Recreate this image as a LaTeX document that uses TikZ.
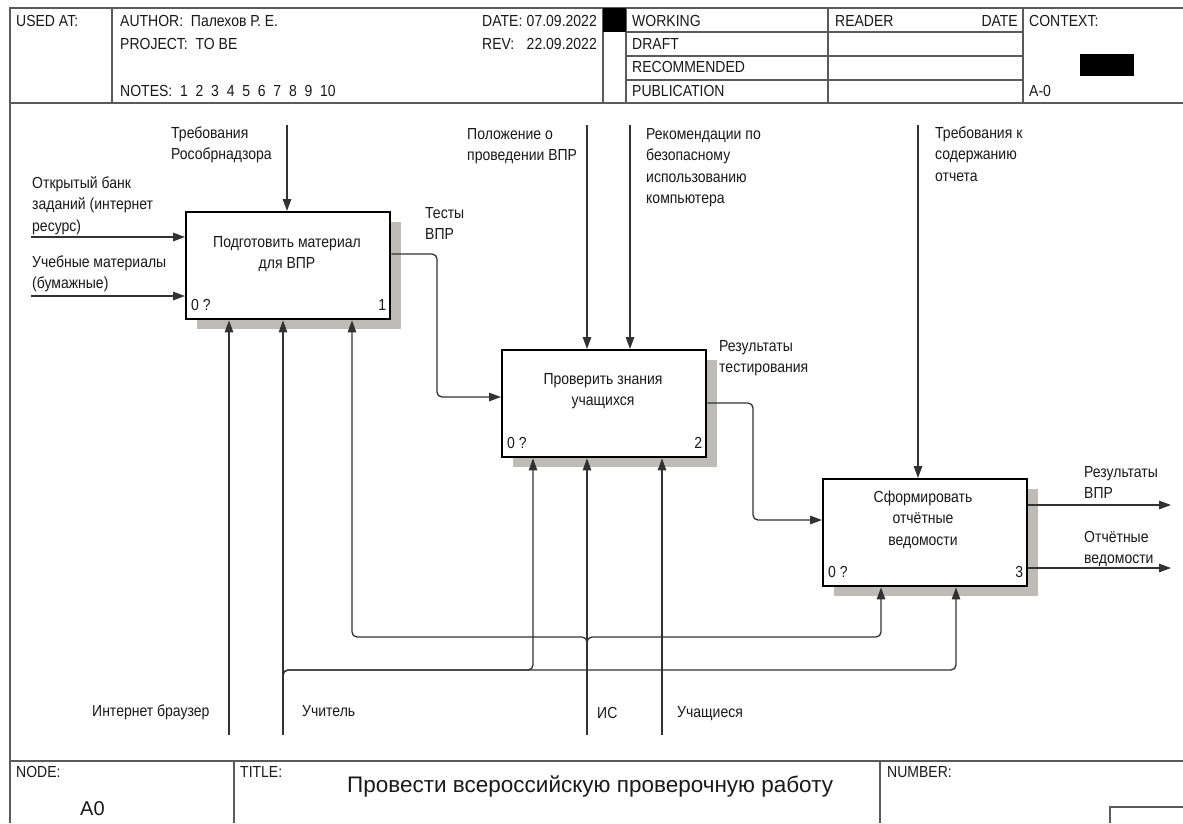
\documentclass[tikz,border=0pt]{standalone}
\usepackage{fontspec}
\setmainfont{Liberation Sans}
\newfontfamily\narrowsans[FakeStretch=0.875]{Liberation Sans}
\usetikzlibrary{arrows.meta,shadows}
\definecolor{framegray}{RGB}{90,90,90}
\definecolor{linegray}{RGB}{50,50,50}
\definecolor{shadowgray}{RGB}{190,188,182}
\definecolor{inkcol}{RGB}{25,25,25}
\newcommand\lblfont{\narrowsans\fontsize{16}{21.5}\selectfont}
\newcommand\ttlfont{\fontsize{22.5}{26}\selectfont}
\begin{document}
\begin{tikzpicture}[x=1pt,y=-1pt,
  frame/.style={draw=framegray,line width=1.4pt},
  arr/.style={draw=linegray,line width=1.3pt,rounded corners=5pt,-{Triangle[length=12pt,width=8.5pt]}},
  fn/.style={draw=black,line width=2.4pt,fill=white,minimum width=204pt,minimum height=107pt,
    inner sep=0pt,anchor=north west,
    drop shadow={shadow xshift=11pt,shadow yshift=-10pt,fill=shadowgray,opacity=1}},
  lab/.style={inner sep=0pt,anchor=base west,align=left,font=\lblfont,text=inkcol},
  labr/.style={inner sep=0pt,anchor=base east,font=\lblfont,text=inkcol},
  ttl/.style={inner sep=0pt,anchor=base,align=center,font=\lblfont,text=inkcol},
]
\useasboundingbox (0,0) rectangle (1183,823);
\fill[white] (0,0) rectangle (1183,823);

% ---------- form frame: header ----------
\draw[frame] (10,823) -- (10,8) -- (1183,8);
\draw[frame] (10,103) -- (1183,103);
\foreach \x in {112,603,626,828,1023} \draw[frame] (\x,8) -- (\x,103);
\foreach \y in {32,56,80} \draw[frame] (626,\y) -- (1023,\y);
\fill[black] (603,8) rectangle (626,32);
\fill[black] (1080,54) rectangle (1134,76);

\node[lab] (usedat) at (16,26) {USED AT:};
\node[lab] (author) at (120,26) {AUTHOR:\ \ Палехов Р. Е.};
\node[lab] (project) at (120,49) {PROJECT:\ \ TO BE};
\node[lab] (notes) at (120,96) {NOTES:\ \ 1\ \ 2\ \ 3\ \ 4\ \ 5\ \ 6\ \ 7\ \ 8\ \ 9\ \ 10};
\node[lab] (date) at (482,26) {DATE:};
\node[labr] (dateval) at (597,26) {07.09.2022};
\node[lab] (rev) at (482,49) {REV:};
\node[labr] (revval) at (597,49) {22.09.2022};
\node[lab] (working) at (632,26) {WORKING};
\node[lab] (draft) at (632,49) {DRAFT};
\node[lab] (recommended) at (632,72) {RECOMMENDED};
\node[lab] (publication) at (632,96) {PUBLICATION};
\node[lab] (reader) at (835,26) {READER};
\node[labr] (readerdate) at (1018,26) {DATE};
\node[lab] (context) at (1029,26) {CONTEXT:};
\node[lab] (ctxnode) at (1029,96) {A-0};

% ---------- form frame: footer ----------
\draw[frame] (10,761) -- (1183,761);
\draw[frame] (234,761) -- (234,823);
\draw[frame] (880,761) -- (880,823);
\draw[frame] (1183,807) -- (1110,807) -- (1110,823);
\node[lab] (nodelbl) at (16,777) {NODE:};
\node[lab,font=\fontsize{20}{24}\selectfont] (nodeval) at (80,815) {A0};
\node[lab] (titlelbl) at (240,777) {TITLE:};
\node[lab,font=\ttlfont] (titleval) at (347,792) {Провести всероссийскую проверочную работу};
\node[lab] (numberlbl) at (887,777) {NUMBER:};

% ---------- activity boxes ----------
\node[fn] (b1) at (185,211) {};
\node[fn] (b2) at (501,349) {};
\node[fn] (b3) at (822,478) {};

% (multi-line texts are placed by the baseline of their last line)
\node[ttl] (t1) at (287,268.5) {Подготовить материал\\для ВПР};
\node[ttl] (t2) at (603,405.5) {Проверить знания\\учащихся};
\node[ttl] (t3) at (923,545) {Сформировать\\отчётные\\ведомости};

\node[lab] (q1) at ([xshift=6pt,yshift=10pt]b1.south west) {0 ?};
\node[labr] (n1) at ([xshift=-5pt,yshift=10pt]b1.south east) {1};
\node[lab] (q2) at ([xshift=6pt,yshift=10pt]b2.south west) {0 ?};
\node[labr] (n2) at ([xshift=-5pt,yshift=10pt]b2.south east) {2};
\node[lab] (q3) at ([xshift=6pt,yshift=10pt]b3.south west) {0 ?};
\node[labr] (n3) at ([xshift=-5pt,yshift=10pt]b3.south east) {3};

% ---------- controls ----------
\coordinate (c1) at (287,125);
\coordinate (c2a) at (587,125);
\coordinate (c2b) at (630,125);
\coordinate (c3) at (918,125);
\draw[arr] (c1) -- (c1 |- b1.north);
\draw[arr] (c2a) -- (c2a |- b2.north);
\draw[arr] (c2b) -- (c2b |- b2.north);
\draw[arr] (c3) -- (c3 |- b3.north);
\node[lab] (lc1) at (171,159.5) {Требования\\Рособрнадзора};
\node[lab] (lc2a) at (467,160.5) {Положение о\\проведении ВПР};
\node[lab] (lc2b) at (646,203.5) {Рекомендации по\\безопасному\\использованию\\компьютера};
\node[lab] (lc3) at (935,181) {Требования к\\содержанию\\отчета};

% ---------- inputs ----------
\coordinate (i1) at (31,237);
\coordinate (i2) at (31,296);
\draw[arr] (i1) -- (i1 -| b1.west);
\draw[arr] (i2) -- (i2 -| b1.west);
\node[lab] (li1) at (32,231) {Открытый банк\\заданий (интернет\\ресурс)};
\node[lab] (li2) at (32,288.5) {Учебные материалы\\(бумажные)};

% ---------- outputs ----------
\draw[arr] (b1.east |- 0,254) -- (437,254) -- (437,397) -- (b2.west |- 0,397);
\draw[arr] (b2.east |- 0,403) -- (753,403) -- (753,520) -- (b3.west |- 0,520);
\coordinate (o1) at (1171,505);
\coordinate (o2) at (1171,568);
\draw[arr] (o1 -| b3.east) -- (o1);
\draw[arr] (o2 -| b3.east) -- (o2);
\node[lab] (lo12) at (425,239.5) {Тесты\\ВПР};
\node[lab] (lo23) at (719,372.5) {Результаты\\тестирования};
\node[lab] (lo1) at (1084,498.5) {Результаты\\ВПР};
\node[lab] (lo2) at (1084,563.5) {Отчётные\\ведомости};

% ---------- mechanisms ----------
\coordinate (m1) at (229,735);
\coordinate (m2) at (283,735);
\coordinate (m3) at (587,735);
\coordinate (m4) at (662,735);
\draw[arr] (m1) -- (m1 |- b1.south);
\draw[arr] (m2) -- (m2 |- b1.south);
\draw[arr] (m3) -- (m3 |- b2.south);
\draw[arr] (m4) -- (m4 |- b2.south);
% teacher branches to the second and third activities
\draw[arr] (283,682) -- (283,670) -- (533,670) -- (533,670 |- b2.south);
\draw[arr] (283,682) -- (283,670) -- (956,670) -- (956,670 |- b3.south);
% information system branches to the first and third activities
\draw[arr] (587,649) -- (587,637) -- (352,637) -- (352,637 |- b1.south);
\draw[arr] (587,649) -- (587,637) -- (881,637) -- (881,637 |- b3.south);
\node[lab] (lm1) at (92,716) {Интернет браузер};
\node[lab] (lm2) at (302,716) {Учитель};
\node[lab] (lm3) at (597,718) {ИС};
\node[lab] (lm4) at (677,717) {Учащиеся};
\end{tikzpicture}
\end{document}
